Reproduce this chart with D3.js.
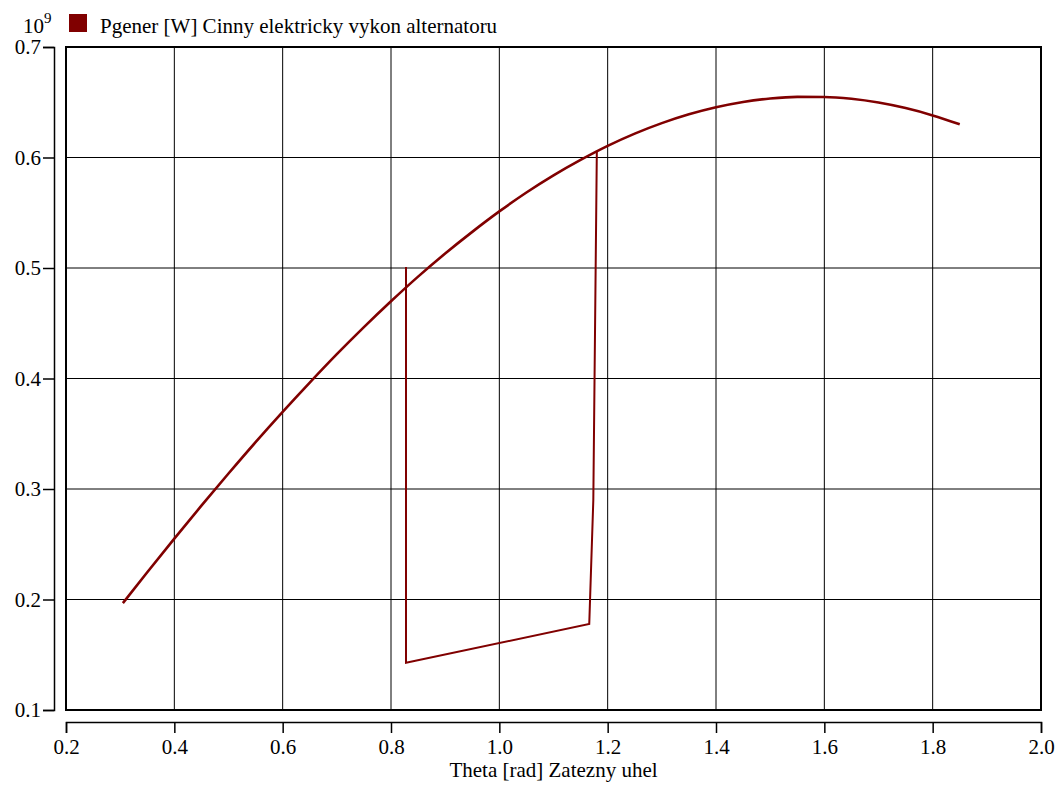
<!DOCTYPE html>
<html>
<head>
<meta charset="utf-8">
<script src="https://cdn.jsdelivr.net/npm/d3@7"></script>
<style>
  svg, svg text, svg tspan { font-family: "Times New Roman", Tinos, "Liberation Serif", serif !important; }
</style>
</head>
<body style="margin:0">
<svg id="chart" width="1061" height="787" style="font-family: 'Times New Roman', Tinos, 'Liberation Serif', serif"></svg>
<script>
// transient after the disturbance (theta [rad], P [1e9 W])
const transTheta = [0.8277, 0.8277, 1.166, 1.1735, 1.180];
const transP = [0.501, 0.1428, 0.1778, 0.290, 0.606];

// power-angle curve
const curveTheta = [0.305, 0.35, 0.40, 0.45, 0.50, 0.55, 0.60, 0.65, 0.70, 0.75, 0.80, 0.85, 0.90, 0.95,
  1.00, 1.05, 1.10, 1.15, 1.20, 1.25, 1.30, 1.35, 1.40, 1.45, 1.50, 1.55, 1.60, 1.65, 1.70, 1.75, 1.80, 1.85];
const curveP = [0.1967, 0.2246, 0.2551, 0.2849, 0.3140, 0.3424, 0.3698, 0.3963, 0.4220, 0.4465, 0.4699,
  0.4922, 0.5131, 0.5327, 0.5512, 0.5683, 0.5838, 0.5978, 0.6105, 0.6216, 0.6311, 0.6391, 0.6455, 0.6503,
  0.6534, 0.6549, 0.6548, 0.6531, 0.6497, 0.6447, 0.6381, 0.6300];

const xTicks = [0.2, 0.4, 0.6, 0.8, 1.0, 1.2, 1.4, 1.6, 1.8, 2.0];
const yTicks = [0.1, 0.2, 0.3, 0.4, 0.5, 0.6, 0.7];

const seriesName = 'Pgener [W] Cinny elektricky vykon alternatoru';
const xTitle = 'Theta [rad] Zatezny uhel';
const color = '#800000';
const FONT = 'Times New Roman';

const svg = d3.select('#chart');
const pl = 66, pr = 1041, pt = 47, pb = 710;

const x = d3.scaleLinear().domain([0.2, 2.0]).range([pl, pr]);
const y = d3.scaleLinear().domain([0.1, 0.7]).range([pb, pt]);

const serifText = sel => sel
  .attr('font-family', FONT)
  .style('font-size', '21px')
  .attr('fill', '#000');

// grid
svg.append('g')
  .selectAll('line')
  .data(xTicks.slice(1, -1))
  .enter()
  .append('line')
  .attr('x1', d => x(d)).attr('x2', d => x(d))
  .attr('y1', pt).attr('y2', pb)
  .attr('stroke', '#000').attr('stroke-width', 1);
svg.append('g')
  .selectAll('line')
  .data(yTicks.slice(1, -1))
  .enter()
  .append('line')
  .attr('x1', pl).attr('x2', pr)
  .attr('y1', d => y(d)).attr('y2', d => y(d))
  .attr('stroke', '#000').attr('stroke-width', 1);

const lineSmooth = d3.line().x(d => x(d[0])).y(d => y(d[1])).curve(d3.curveMonotoneX);
const lineStraight = d3.line().x(d => x(d[0])).y(d => y(d[1]));

const trans = transTheta.map((t, i) => [t, transP[i]]);
svg.append('path')
  .attr('d', lineStraight(trans))
  .attr('fill', 'none').attr('stroke', color).attr('stroke-width', 2)
  .attr('stroke-linejoin', 'miter');

const curvePts = curveTheta.map((t, i) => [t, curveP[i]]);
svg.append('path')
  .attr('d', lineSmooth(curvePts))
  .attr('fill', 'none').attr('stroke', color).attr('stroke-width', 2.6)
  .attr('stroke-linejoin', 'round');

// frame
svg.append('rect')
  .attr('x', pl).attr('y', pt)
  .attr('width', pr - pl).attr('height', pb - pt)
  .attr('fill', 'none').attr('stroke', '#000').attr('stroke-width', 2);

// y axis
const yAxis = d3.axisLeft(y).tickValues(yTicks).tickFormat(d3.format('.1f')).tickSize(11).tickPadding(2);
const gy = svg.append('g').attr('transform', 'translate(54,0)').call(yAxis)
  .attr('font-family', null).attr('font-size', null);
gy.select('.domain').attr('stroke-width', 1.5);
gy.selectAll('.tick line').attr('stroke-width', 1.5);
gy.selectAll('.tick text').call(serifText);

// x axis
const xAxis = d3.axisBottom(x).tickValues(xTicks).tickFormat(d3.format('.1f')).tickSize(11).tickPadding(6);
const gx = svg.append('g').attr('transform', 'translate(0,722)').call(xAxis)
  .attr('font-family', null).attr('font-size', null);
gx.select('.domain').attr('stroke-width', 1.5);
gx.selectAll('.tick line').attr('stroke-width', 1.5);
gx.selectAll('.tick text').call(serifText);

svg.append('text')
  .attr('x', (pl + pr) / 2).attr('y', 777)
  .attr('text-anchor', 'middle')
  .call(serifText)
  .text(xTitle);

// exponent
const expo = svg.append('text').attr('x', 23).attr('y', 33).call(serifText);
expo.append('tspan').text('10');
expo.append('tspan').attr('dy', -10).style('font-size', '15px').text('9');

// legend
svg.append('rect')
  .attr('x', 69).attr('y', 14).attr('width', 18).attr('height', 18)
  .attr('fill', color);
svg.append('text')
  .attr('x', 100).attr('y', 33)
  .call(serifText)
  .text(seriesName);
</script>
</body>
</html>
